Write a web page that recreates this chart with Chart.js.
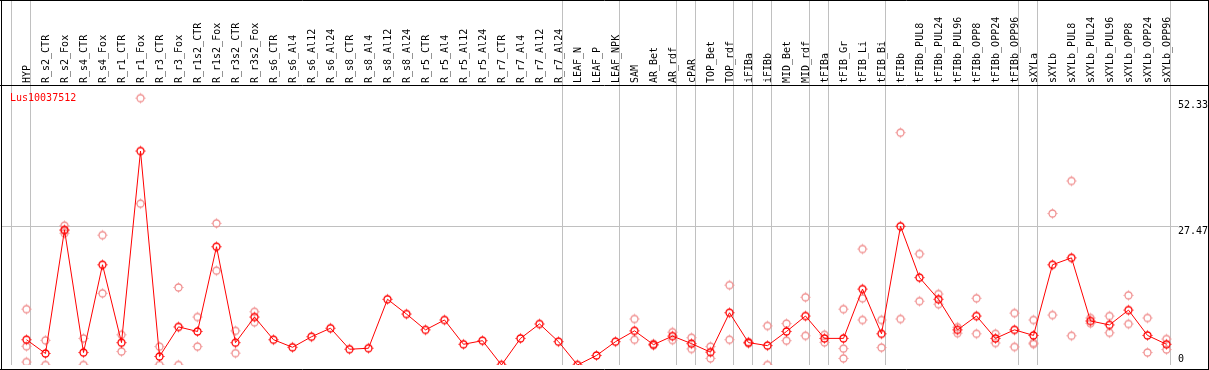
<!DOCTYPE html>
<html lang="en">
<head>
<meta charset="UTF-8">
<title>Lus10037512</title>
<script src="https://cdn.jsdelivr.net/npm/chart.js"></script>
<style>
  body { margin: 0; background: #fff; }
  canvas { display: block; }
</style>
</head>
<body>
<canvas id="chart" width="1209" height="370"></canvas>
<script>
const geneName = 'Lus10037512';

const categories = [
  'HYP', 'R_s2_CTR', 'R_s2_Fox', 'R_s4_CTR', 'R_s4_Fox', 'R_r1_CTR', 'R_r1_Fox',
  'R_r3_CTR', 'R_r3_Fox', 'R_r1s2_CTR', 'R_r1s2_Fox', 'R_r3s2_CTR', 'R_r3s2_Fox',
  'R_s6_CTR', 'R_s6_Al4', 'R_s6_Al12', 'R_s6_Al24', 'R_s8_CTR', 'R_s8_Al4',
  'R_s8_Al12', 'R_s8_Al24', 'R_r5_CTR', 'R_r5_Al4', 'R_r5_Al12', 'R_r5_Al24',
  'R_r7_CTR', 'R_r7_Al4', 'R_r7_Al12', 'R_r7_Al24', 'LEAF_N', 'LEAF_P', 'LEAF_NPK',
  'SAM', 'AR_Bet', 'AR_rdf', 'cPAR', 'TOP_Bet', 'TOP_rdf', 'iFIBa', 'iFIBb',
  'MID_Bet', 'MID_rdf', 'tFIBa', 'tFIB_Gr', 'tFIB_Li', 'tFIB_Bi', 'tFIBb',
  'tFIBb_PUL8', 'tFIBb_PUL24', 'tFIBb_PUL96', 'tFIBb_OPP8', 'tFIBb_OPP24', 'tFIBb_OPP96',
  'sXYLa', 'sXYLb', 'sXYLb_PUL8', 'sXYLb_PUL24', 'sXYLb_PUL96', 'sXYLb_OPP8',
  'sXYLb_OPP24', 'sXYLb_OPP96'
];

// mean expression per sample
const meanValues = [
  5.01, 2.28, 26.75, 2.47, 19.85, 4.43, 42.37,
  1.69, 7.55, 6.64, 23.43, 4.43, 9.50,
  5.01, 3.51, 5.60, 7.29, 3.12, 3.32,
  13.02, 10.09, 6.96, 8.92, 4.10, 4.82,
  0, 5.27, 8.13, 4.62, 0, 1.89, 4.62,
  6.77, 4.03, 5.73, 4.23, 2.54, 10.35, 4.43, 3.84,
  6.64, 9.70, 5.27, 5.27, 15.03, 6.18, 27.47,
  17.31, 13.02, 6.96, 9.70, 5.27, 6.96,
  5.86, 19.85, 21.22, 8.72, 7.94, 10.87,
  5.86, 4.10
];

// individual replicates (null = none)
const rep1 = [
  11.06, 4.88, 27.59, 5.27, 25.71, 5.99, 52.84,
  3.64, 15.36, 9.50, 28.05, 6.77, 10.54,
  null, null, null, null, null, null,
  null, null, null, null, null, null,
  null, null, null, null, null, null, null,
  9.11, 4.2, 6.51, 5.40, 3.64, 15.81, 4.56, 7.74,
  8.20, 13.41, 5.99, 11.06, 22.97, 8.92, 46.01,
  22.0, 14.06, 7.48, 13.21, 6.18, 10.28,
  8.92, 30.0, 36.44, 9.31, 9.70, 13.80,
  9.31, 5.14
];
const rep2 = [
  3.71, 0, 26.10, 0, 14.19, 2.67, 31.95,
  0, 0, 3.64, 18.68, 2.34, 8.46,
  null, null, null, null, null, null,
  null, null, null, null, null, null,
  null, null, null, null, null, null, null,
  5.01, 3.9, 4.95, 3.19, 1.30, 5.01, 4.3, 0,
  4.82, 5.79, 4.49, 3.25, 13.21, 3.45, 9.11,
  12.63, 12.04, 6.31, 6.18, 4.36, 3.58,
  4.36, 9.89, 5.79, 8.26, 6.38, 8.13,
  2.47, 3.06
];
const rep3 = [
  0.59, null, 26.6, null, null, null, null,
  null, null, null, null, null, null,
  null, null, null, null, null, null,
  null, null, null, null, null, null,
  null, null, null, null, null, null, null,
  null, null, null, null, null, null, null, null,
  null, null, null, 1.30, 8.92, null, null,
  null, null, null, null, null, null,
  4.17, null, null, null, null, null,
  null, null
];

const yTicks = [0, 27.47, 52.33];
const yMax = 55.45;
// last sample index of each group (separator lines)
const groupEnds = [-1, 0, 28, 31, 34, 35, 37, 38, 39, 41, 42, 45, 52, 53, 60];

const monoFont = '"DejaVu Sans Mono", monospace';

function makeMarker(color) {
  const c = document.createElement('canvas');
  c.width = 13; c.height = 13;
  const g = c.getContext('2d');
  g.strokeStyle = color;
  g.lineWidth = 1.3;
  g.beginPath();
  g.arc(6.5, 6.5, 3.5, 0, Math.PI * 2);
  g.stroke();
  g.lineWidth = 1;
  g.beginPath();
  g.moveTo(6.5, 1.5); g.lineTo(6.5, 2.6);
  g.moveTo(6.5, 10.4); g.lineTo(6.5, 11.5);
  g.moveTo(1.5, 6.5); g.lineTo(2.6, 6.5);
  g.moveTo(10.4, 6.5); g.lineTo(11.5, 6.5);
  g.stroke();
  return c;
}

const mainMarker = makeMarker('#ff0000');
const repMarker = makeMarker('#f09090');

const framePlugin = {
  id: 'frame',
  beforeDatasetsDraw(chart) {
    const { ctx, chartArea, scales: { x, y } } = chart;
    ctx.save();
    ctx.lineWidth = 1;
    ctx.strokeStyle = '#c0c0c0';
    groupEnds.forEach(i => {
      const px = Math.floor(x.getPixelForValue(i) + 4) + 0.5;
      ctx.beginPath();
      ctx.moveTo(px, 0);
      ctx.lineTo(px, chartArea.bottom);
      ctx.stroke();
    });
    const gy = Math.floor(y.getPixelForValue(27.47)) + 0.5;
    ctx.beginPath();
    ctx.moveTo(2, gy);
    ctx.lineTo(chartArea.right + 2, gy);
    ctx.stroke();
    ctx.restore();
  },
  afterDraw(chart) {
    const { ctx, chartArea, scales: { y } } = chart;
    ctx.save();
    // outer box and header separator
    ctx.strokeStyle = '#000';
    ctx.lineWidth = 1;
    ctx.beginPath();
    ctx.moveTo(1.5, 0); ctx.lineTo(1.5, 370);
    ctx.moveTo(1208.5, 0); ctx.lineTo(1208.5, 370);
    ctx.moveTo(0, 0.5); ctx.lineTo(1209, 0.5);
    ctx.moveTo(0, chartArea.top + 0.5); ctx.lineTo(1209, chartArea.top + 0.5);
    ctx.moveTo(0, 369.5); ctx.lineTo(1209, 369.5);
    ctx.stroke();

    // y labels
    ctx.font = '10px ' + monoFont;
    ctx.fillStyle = '#000';
    ctx.textAlign = 'left';
    yTicks.forEach(v => {
      const py = y.getPixelForValue(v);
      if (py > chartArea.bottom - 12) {
        ctx.textBaseline = 'bottom';
        ctx.fillText(String(v), chartArea.right + 2, chartArea.bottom - 1);
      } else {
        ctx.textBaseline = 'top';
        ctx.fillText(String(v), chartArea.right + 2, py);
      }
    });

    // gene name
    ctx.fillStyle = '#ff0000';
    ctx.textBaseline = 'alphabetic';
    ctx.fillText(geneName, 10, chartArea.top + 16);
    ctx.restore();
  }
};

function repDataset(values) {
  return {
    data: values,
    showLine: false,
    pointStyle: repMarker,
    pointRadius: 4,
    pointHoverRadius: 4
  };
}

new Chart(document.getElementById('chart'), {
  type: 'line',
  data: {
    labels: categories,
    datasets: [
      {
        data: meanValues,
        borderColor: '#ff0000',
        borderWidth: 1,
        tension: 0,
        pointStyle: mainMarker,
        pointRadius: 4,
        pointHoverRadius: 4
      },
      repDataset(rep1),
      repDataset(rep2),
      repDataset(rep3)
    ]
  },
  options: {
    responsive: false,
    animation: false,
    events: [],
    layout: { padding: { left: 17, right: 0, top: 0, bottom: 1 } },
    plugins: { legend: { display: false }, tooltip: { enabled: false } },
    scales: {
      x: {
        type: 'category',
        position: 'top',
        offset: true,
        grid: { display: false, drawTicks: false },
        border: { display: false },
        ticks: {
          autoSkip: false,
          maxRotation: 90,
          minRotation: 90,
          padding: 2,
          labelOffset: 13,
          color: '#000',
          font: { family: monoFont, size: 10 }
        },
        afterFit(scale) { scale.height = 85; }
      },
      y: {
        position: 'right',
        min: 0,
        max: yMax,
        grid: { display: false, drawTicks: false },
        border: { display: false },
        ticks: { display: false },
        afterBuildTicks(scale) { scale.ticks = yTicks.map(v => ({ value: v })); },
        afterFit(scale) { scale.width = 33; }
      }
    }
  },
  plugins: [framePlugin]
});
</script>
</body>
</html>
